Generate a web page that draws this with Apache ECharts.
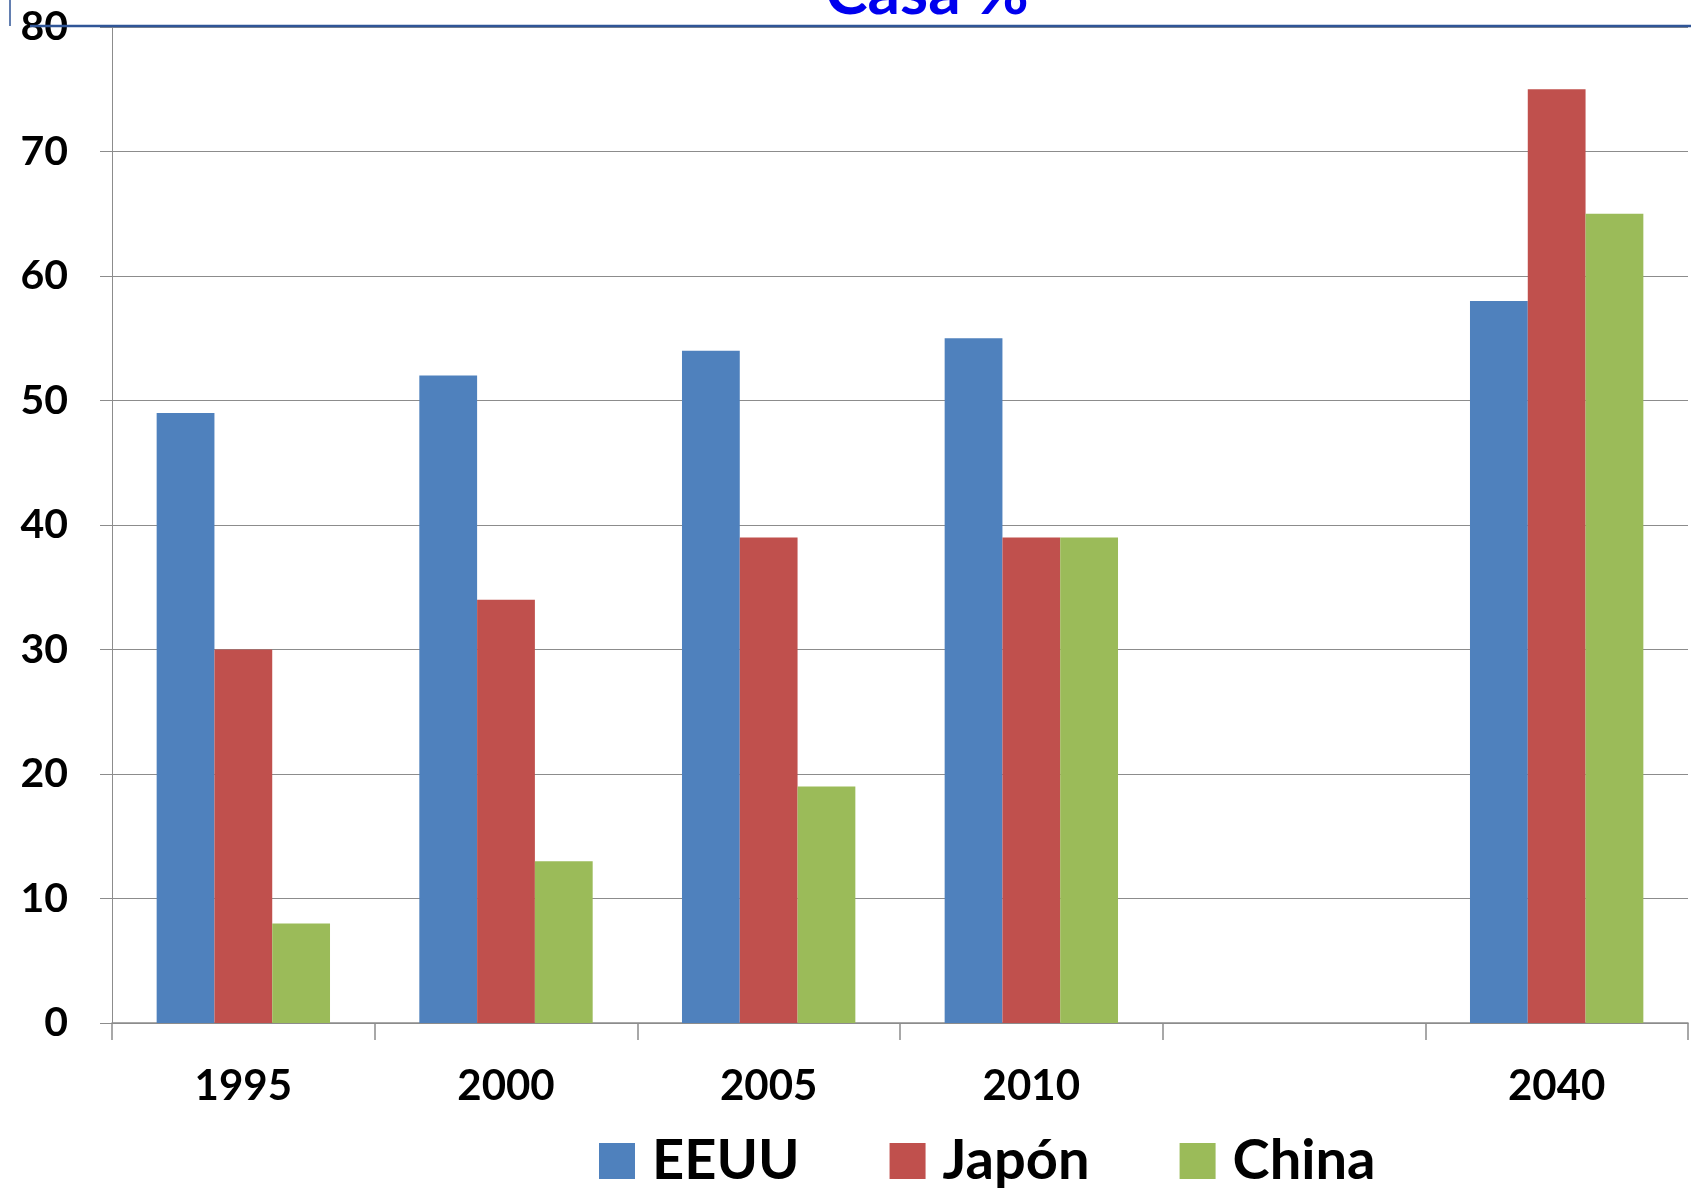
<!DOCTYPE html>
<html>
<head>
<meta charset="utf-8">
<script src="https://cdn.jsdelivr.net/npm/echarts@6/dist/echarts.min.js"></script>
<style>
  html, body { margin: 0; padding: 0; background: #fff; }
  #chart { width: 1691px; height: 1196px; }
</style>
</head>
<body>
<div id="chart"></div>
<script>
// categorias (la quinta va vacia, hueco antes de 2040)
const years = ['1995', '2000', '2005', '2010', '', '2040']
const eeuu = [49, 52, 54, 55, null, 58]
const japon = [30, 34, 39, 39, null, 75]
const china = [8, 13, 19, 39, null, 65]
const yTicks = [0, 10, 20, 30, 40, 50, 60, 70, 80]

const chart = echarts.init(document.getElementById('chart'))
const font = 'Lato, "Open Sans", sans-serif'

let option = {
  animation: false,
  title: {
    text: 'Casa %',
    left: 922,
    textAlign: 'center',
    top: -44,
    textStyle: { color: '#0000ee', fontSize: 64, fontWeight: 'bold', fontFamily: font }
  },
  color: ['#4F81BD', '#C0504D', '#9BBB59'],
  legend: {
    data: ['EEUU', 'Japón', 'China'],
    bottom: 2,
    left: 594,
    itemWidth: 36,
    itemHeight: 36,
    itemGap: 90,
    icon: 'rect',
    textStyle: { fontSize: 56, fontWeight: 'bold', fontFamily: font, color: '#000', padding: [0, 0, 0, 12] }
  },
  grid: { left: 112, right: 3, top: 27, bottom: 173 },
  xAxis: {
    type: 'category',
    data: years,
    axisLine: { lineStyle: { color: '#8c8c8c', width: 1.5 } },
    axisTick: { show: true, length: 17, lineStyle: { color: '#8c8c8c', width: 1.5 } },
    axisLabel: { fontSize: 42, fontWeight: 'bold', fontFamily: font, color: '#000', margin: 42 }
  },
  yAxis: {
    type: 'value',
    min: yTicks[0],
    max: yTicks[yTicks.length - 1],
    interval: 10,
    axisLine: { show: true, lineStyle: { color: '#8c8c8c', width: 1 } },
    axisTick: { show: true, length: 12, lineStyle: { color: '#8c8c8c' } },
    splitLine: { lineStyle: { color: '#8c8c8c', width: 1 } },
    axisLabel: { fontSize: 41, fontWeight: 'bold', fontFamily: font, color: '#000', margin: 44 }
  },
  series: [
    { name: 'EEUU', type: 'bar', data: eeuu, barGap: '0%', barCategoryGap: '34%' },
    { name: 'Japón', type: 'bar', data: japon, barGap: '0%', barCategoryGap: '34%' },
    { name: 'China', type: 'bar', data: china, barGap: '0%', barCategoryGap: '34%' }
  ],
  graphic: [
    { type: 'line', shape: { x1: 30, y1: 26, x2: 1691, y2: 26 }, style: { stroke: '#2f5597', lineWidth: 2.5 }, z: 100 },
    { type: 'line', shape: { x1: 10, y1: 0, x2: 10, y2: 26 }, style: { stroke: '#2f5597', lineWidth: 1.5 }, z: 100 }
  ]
}
chart.setOption(option)
</script>
</body>
</html>
